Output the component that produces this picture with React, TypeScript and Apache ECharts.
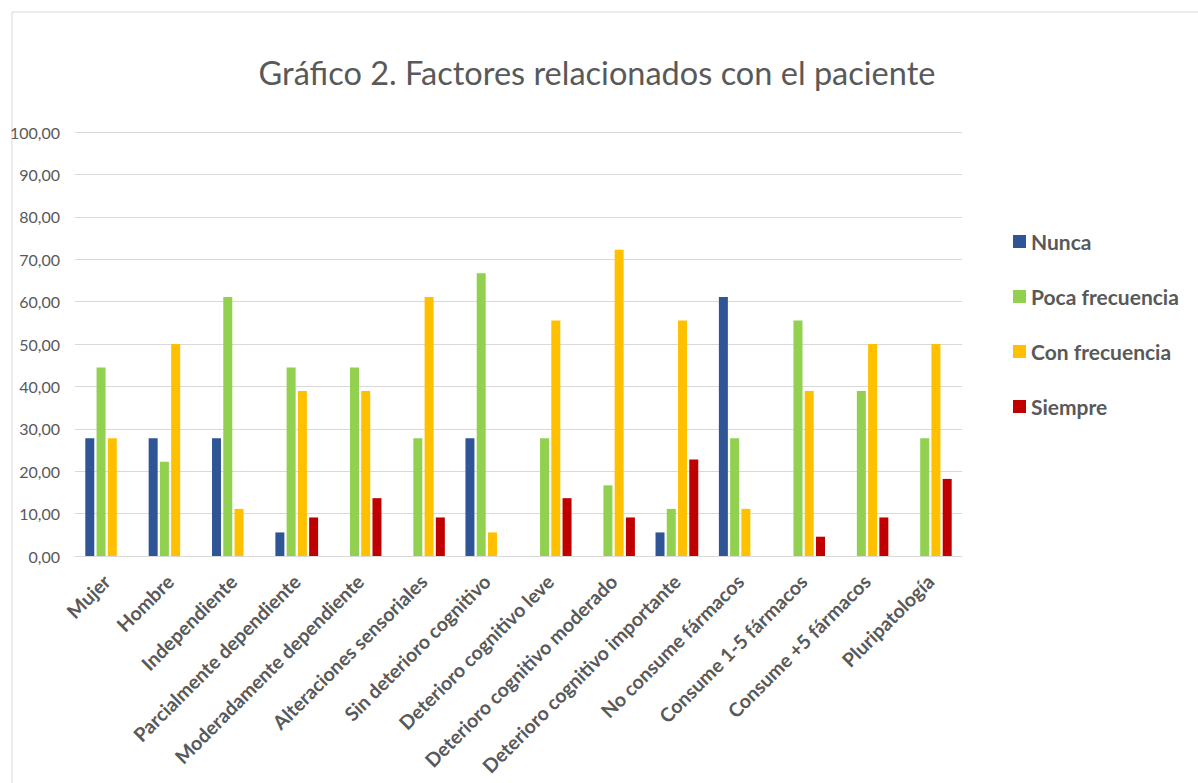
import React, { useEffect, useRef } from "react";
import * as echarts from "echarts";

const categories = [
  "Mujer",
  "Hombre",
  "Independiente",
  "Parcialmente dependiente",
  "Moderadamente dependiente",
  "Alteraciones sensoriales",
  "Sin deterioro cognitivo",
  "Deterioro cognitivo leve",
  "Deterioro cognitivo moderado",
  "Deterioro cognitivo importante",
  "No consume fármacos",
  "Consume 1-5 fármacos",
  "Consume +5 fármacos",
  "Pluripatología",
];

const nunca = [27.78, 27.78, 27.78, 5.56, 0, 0, 27.78, 0, 0, 5.56, 61.11, 0, 0, 0];
const pocaFrecuencia = [44.44, 22.22, 61.11, 44.44, 44.44, 27.78, 66.67, 27.78, 16.67, 11.11, 27.78, 55.56, 38.89, 27.78];
const conFrecuencia = [27.78, 50, 11.11, 38.89, 38.89, 61.11, 5.56, 55.56, 72.22, 55.56, 11.11, 38.89, 50, 50];
const siempre = [0, 0, 0, 9.09, 13.64, 9.09, 0, 13.64, 9.09, 22.73, 0, 4.55, 9.09, 18.18];

const seriesNames = ["Nunca", "Poca frecuencia", "Con frecuencia", "Siempre"];
const seriesColors = ["#2F5597", "#92D050", "#FFC000", "#C00000"];
const seriesData = [nunca, pocaFrecuencia, conFrecuencia, siempre];

const FONT = "Lato, 'Open Sans', sans-serif";
const GRAY = "#595959";

export default function App() {
  const ref = useRef<HTMLDivElement>(null);
  useEffect(() => {
    if (!ref.current) return;
    const chart = echarts.init(ref.current, undefined, { renderer: "svg" });
    chart.setOption({
      animation: false,
      backgroundColor: "#ffffff",
      title: {
        text: "Gráfico 2. Factores relacionados con el paciente",
        left: 592,
        textAlign: "center",
        top: 51,
        textStyle: { fontFamily: FONT, fontSize: 32.5, fontWeight: "normal", color: GRAY },
      },
      graphic: [
        {
          type: "rect",
          shape: { x: 12, y: 12, width: 1250, height: 850 },
          style: { fill: "none", stroke: "#d9d9d9", lineWidth: 1 },
          silent: true,
        },
      ],
      legend: {
        orient: "vertical",
        left: 1008,
        top: 226,
        itemWidth: 13,
        itemHeight: 13,
        itemGap: 34,
        icon: "rect",
        data: seriesNames,
        textStyle: { fontFamily: FONT, fontSize: 21, fontWeight: "bold", color: GRAY },
      },
      grid: { left: 75, right: 236, top: 132, bottom: 227, containLabel: false },
      xAxis: {
        type: "category",
        data: categories,
        axisLine: { lineStyle: { color: "#d9d9d9", width: 1 } },
        axisTick: { show: false },
        axisLabel: {
          rotate: 45,
          interval: 0,
          margin: 22,
          fontFamily: FONT,
          fontSize: 19.5,
          fontWeight: "bold",
          color: GRAY,
        },
      },
      yAxis: {
        type: "value",
        min: 0,
        max: 100,
        interval: 10,
        axisLine: { show: false },
        axisTick: { show: false },
        splitLine: { lineStyle: { color: "#d9d9d9", width: 1 } },
        axisLabel: {
          fontFamily: FONT,
          fontSize: 16,
          color: GRAY,
          margin: 15,
          formatter: (v: number) => v.toFixed(2).replace(".", ","),
        },
      },
      series: seriesNames.map((name, i) => ({
        name,
        type: "bar",
        data: seriesData[i],
        barWidth: 9,
        barGap: "25%",
        itemStyle: { color: seriesColors[i] },
      })),
    });
    return () => chart.dispose();
  }, []);
  return (
    <div
      ref={ref}
      style={{ position: "absolute", left: 0, top: 0, width: 1198, height: 783, background: "#fff" }}
    />
  );
}
